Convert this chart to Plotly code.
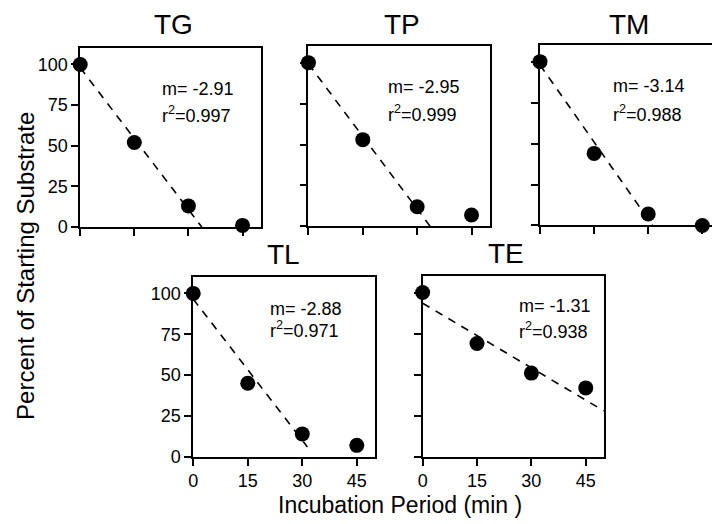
import plotly.graph_objects as go

# ---------------- data ----------------
time_min = [0, 15, 30, 45]
panel_names = ["TG", "TP", "TM", "TL", "TE"]

tg_values = [100, 52, 13, 1]
tp_values = [100, 53, 12, 7]
tm_values = [100, 44, 7, 0]
tl_values = [100, 45, 14, 7]
te_values = [100, 69, 51, 42]

# fitted (dashed) line end points
tg_fit_x = [0, 33.7]
tg_fit_y = [98, 0]
tp_fit_x = [0, 33.6]
tp_fit_y = [99.2, 0]
tm_fit_x = [0, 31.2]
tm_fit_y = [98, 0]
tl_fit_x = [0, 31.4]
tl_fit_y = [96.5, 6]
te_fit_x = [0, 50]
te_fit_y = [93.5, 28]

slopes = ["-2.91", "-2.95", "-3.14", "-2.88", "-1.31"]
r2_values = ["0.997", "0.999", "0.988", "0.971", "0.938"]

x_tick_vals = [0, 15, 30, 45]
x_tick_text = ["0", "15", "30", "45"]
y_tick_vals = [0, 25, 50, 75, 100]
y_tick_text = ["0", "25", "50", "75", "100"]

values = [tg_values, tp_values, tm_values, tl_values, te_values]
fits = [(tg_fit_x, tg_fit_y), (tp_fit_x, tp_fit_y), (tm_fit_x, tm_fit_y),
        (tl_fit_x, tl_fit_y), (te_fit_x, te_fit_y)]

# ---------------- layout (pixel boxes) ----------------
W, H = 720, 524
boxes = [  # left, right, top, bottom in pixels
    (67.7, 249.3, 41.0, 223.3),
    (297.5, 480.0, 39.0, 222.7),
    (530.7, 712.3, 38.0, 221.7),
    (181.5, 364.5, 274.3, 457.5),
    (412.5, 595.0, 273.3, 457.7),
]
show_y_labels = [True, False, False, True, False]
show_x_labels = [False, False, False, True, True]
title_pos = [(161.7, 17), (391.7, 17), (620, 17), (272.5, 251), (496.7, 250)]
# annotation positions in data units (x-left, bottom of m line, bottom of r2 line)
ann_pos = [(22.0, 77.7, 60.8), (21.5, 77.7, 60.8), (19.6, 77.6, 60.4),
           (20.5, 83.3, 69.7), (26.1, 84.8, 69.0)]

FONT = "Liberation Sans, Arial, Helvetica, sans-serif"

fig = go.Figure()
layout = dict(
    width=W, height=H,
    margin=dict(l=0, r=0, t=0, b=0),
    paper_bgcolor="white", plot_bgcolor="white",
    showlegend=False,
    font=dict(family=FONT, color="black"),
)
annotations = []

for i, name in enumerate(panel_names):
    k = "" if i == 0 else str(i + 1)
    l, r, t, b = boxes[i]
    fx, fy = fits[i]
    fig.add_trace(go.Scatter(
        x=fx, y=fy, mode="lines",
        line=dict(color="black", width=1.6, dash="8px,7px"),
        xaxis="x" + k, yaxis="y" + k, hoverinfo="skip"))
    fig.add_trace(go.Scatter(
        x=time_min, y=values[i], mode="markers",
        marker=dict(color="black", size=15),
        cliponaxis=False,
        xaxis="x" + k, yaxis="y" + k))
    common = dict(showline=True, linecolor="black", linewidth=1.6, mirror=True,
                  ticks="outside", ticklen=7, tickwidth=1.5, tickcolor="black",
                  showgrid=False, zeroline=False,
                  tickfont=dict(family=FONT, size=18, color="black"))
    layout["xaxis" + k] = dict(
        domain=[l / W, r / W], anchor="y" + k, range=[0, 50],
        tickvals=x_tick_vals, ticktext=x_tick_text,
        showticklabels=show_x_labels[i], **common)
    layout["yaxis" + k] = dict(
        domain=[1 - b / H, 1 - t / H], anchor="x" + k, range=[0, 110],
        tickvals=y_tick_vals, ticktext=y_tick_text,
        showticklabels=show_y_labels[i], **common)
    tx, ty = title_pos[i]
    annotations.append(dict(
        text=name, x=tx / W, y=1 - ty / H, xref="paper", yref="paper",
        xanchor="center", yanchor="middle", showarrow=False,
        font=dict(family=FONT, size=28, color="black")))
    ax, am, ar = ann_pos[i]
    annotations.append(dict(
        text="m= " + slopes[i], x=ax, y=am, xref="x" + k, yref="y" + k,
        xanchor="left", yanchor="bottom", showarrow=False,
        font=dict(family=FONT, size=18, color="black")))
    annotations.append(dict(
        text="r<sup>2</sup>=" + r2_values[i], x=ax, y=ar, xref="x" + k, yref="y" + k,
        xanchor="left", yanchor="bottom", showarrow=False,
        font=dict(family=FONT, size=18, color="black")))

annotations.append(dict(
    text="Percent of Starting Substrate", x=13 / W, y=1 - 263 / H,
    xref="paper", yref="paper", textangle=-90, showarrow=False,
    xanchor="center", yanchor="middle",
    font=dict(family=FONT, size=24, color="black")))
annotations.append(dict(
    text="Incubation Period (min )", x=390 / W, y=1 - 506.7 / H,
    xref="paper", yref="paper", showarrow=False,
    xanchor="center", yanchor="middle",
    font=dict(family=FONT, size=23, color="black")))

layout["annotations"] = annotations
fig.update_layout(**layout)
fig.write_html("out.html")
